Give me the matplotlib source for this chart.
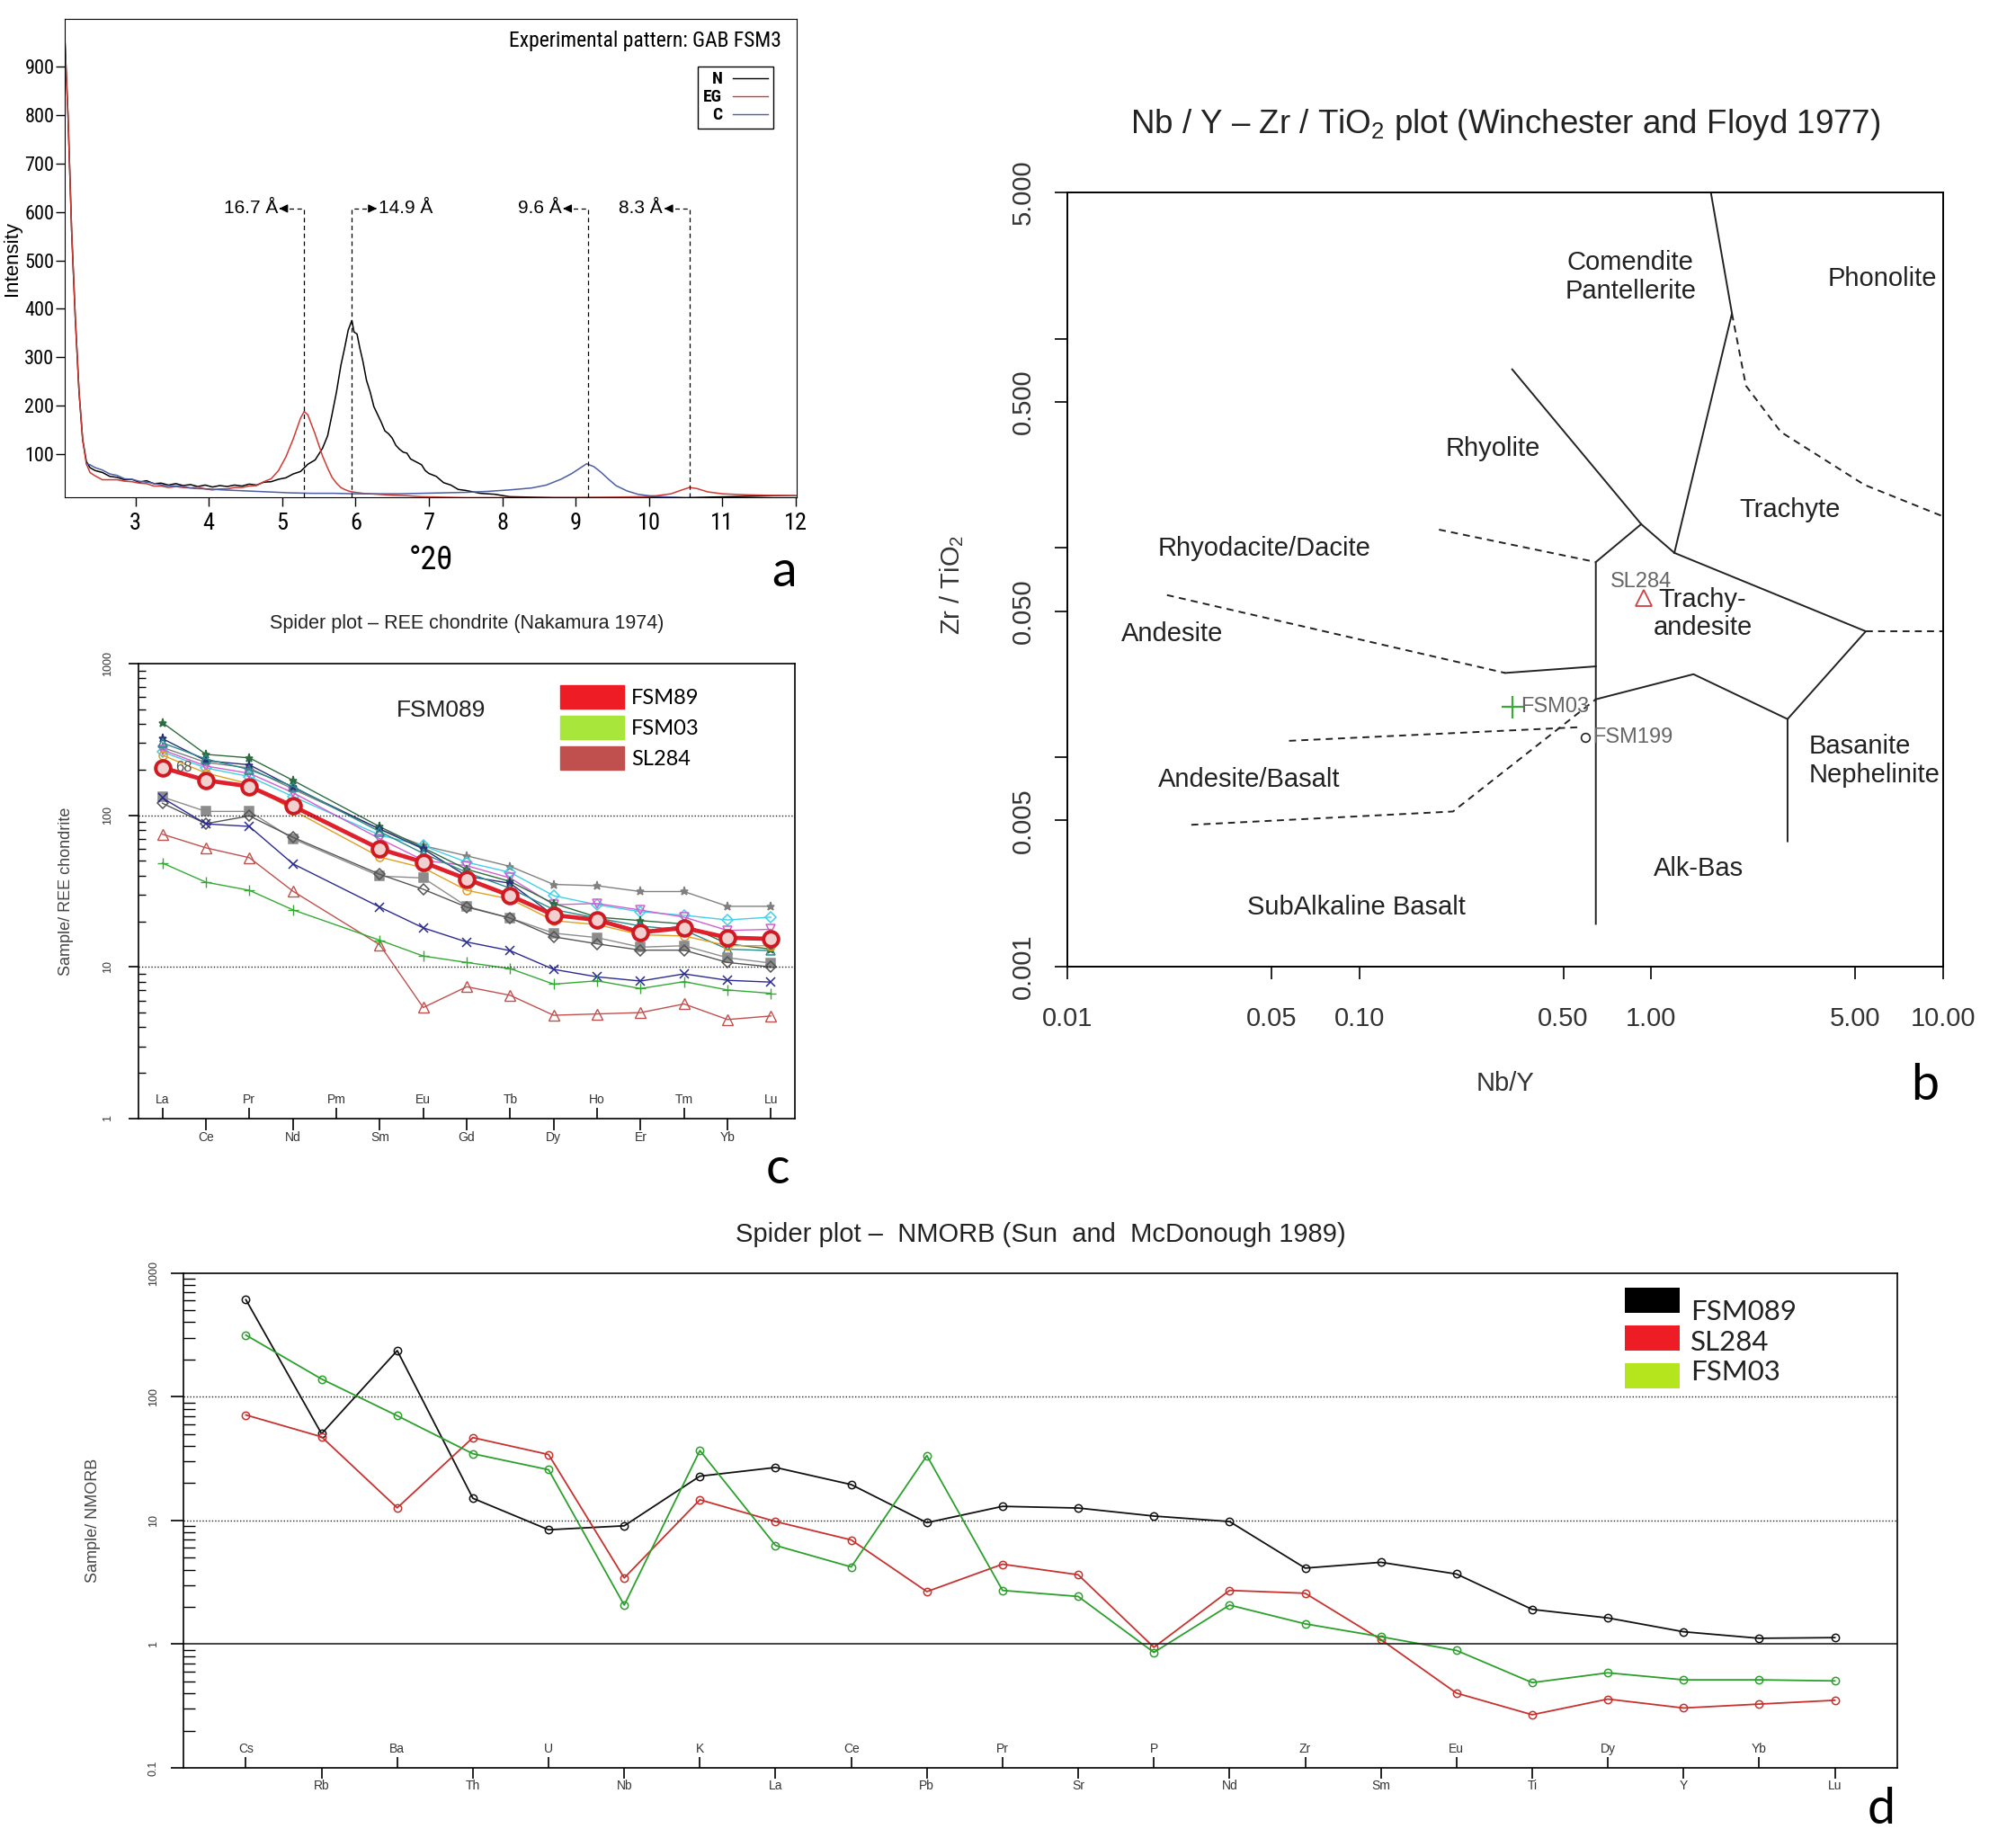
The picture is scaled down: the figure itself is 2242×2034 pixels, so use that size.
import numpy as np
import matplotlib.pyplot as plt
from matplotlib.lines import Line2D
from matplotlib.patches import Patch, Rectangle
from matplotlib.ticker import FixedLocator, FixedFormatter, LogLocator, NullFormatter, NullLocator

plt.rcParams['font.family'] = ['Liberation Sans', 'DejaVu Sans']
plt.rcParams['mathtext.fontset'] = 'custom'
plt.rcParams['mathtext.rm'] = 'Liberation Sans'
plt.rcParams['mathtext.default'] = 'regular'
NARROW = ['Roboto Condensed', 'Liberation Sans Narrow', 'Open Sans Condensed', 'DejaVu Sans']
CALI = ['Lato', 'DejaVu Sans']

# ---------------- panel a: XRD patterns ----------------
n_2theta = [2.03, 2.08, 2.13, 2.18, 2.23, 2.28, 2.33, 2.38, 2.45, 2.55, 2.65, 2.75, 2.85, 2.95,
            3.05, 3.15, 3.25, 3.35, 3.45, 3.55, 3.65, 3.75, 3.85, 3.95, 4.05, 4.15, 4.25, 4.35,
            4.45, 4.55, 4.65, 4.75, 4.85, 4.95, 5.05, 5.15, 5.25, 5.35, 5.45, 5.55, 5.62, 5.68,
            5.74, 5.80, 5.85, 5.90, 5.95, 5.98, 6.02, 6.06, 6.10, 6.15, 6.20, 6.25, 6.30, 6.35,
            6.40, 6.45, 6.50, 6.55, 6.60, 6.65, 6.70, 6.75, 6.80, 6.85, 6.90, 6.95, 7.00, 7.10,
            7.20, 7.30, 7.40, 7.50, 7.70, 7.90, 8.10, 8.40, 8.70, 9.00, 9.30, 9.60, 9.90, 10.20,
            10.50, 10.80, 11.10, 11.40, 11.70, 12.00]
n_int = [985, 800, 560, 380, 230, 130, 85, 72, 66, 62, 54, 52, 47, 48,
         42, 45, 39, 40, 36, 39, 35, 37, 33, 36, 32, 35, 33, 36,
         34, 38, 36, 42, 43, 48, 51, 59, 64, 79, 88, 112, 138, 182,
         228, 283, 318, 356, 376, 352, 348, 318, 292, 252, 228, 198, 182, 166,
         148, 142, 133, 118, 110, 104, 102, 90, 86, 82, 78, 66, 60, 54,
         41, 36, 27, 25, 19, 17, 12, 11, 10, 10, 10, 10, 11, 11,
         10, 11, 12, 13, 14, 14]
eg_2theta = [2.03, 2.08, 2.13, 2.18, 2.23, 2.28, 2.33, 2.38, 2.45, 2.55, 2.65, 2.75, 2.85, 2.95,
             3.05, 3.15, 3.25, 3.35, 3.45, 3.55, 3.65, 3.75, 3.85, 3.95, 4.05, 4.15, 4.25, 4.35,
             4.45, 4.55, 4.65, 4.75, 4.85, 4.95, 5.05, 5.15, 5.25, 5.30, 5.35, 5.45, 5.55, 5.62,
             5.68, 5.74, 5.80, 5.85, 5.90, 5.95, 6.10, 6.30, 6.50, 6.70, 6.90, 7.20, 7.50, 8.00,
             8.50, 9.00, 9.50, 9.90, 10.10, 10.30, 10.45, 10.55, 10.65, 10.80, 11.00, 11.30, 11.60, 12.00]
eg_int = [985, 800, 560, 380, 230, 130, 80, 62, 55, 47, 47, 47, 44, 43,
          40, 39, 34, 34, 31, 33, 31, 30, 32, 28, 26, 28, 28, 31,
          31, 34, 35, 43, 49, 66, 94, 131, 174, 188, 181, 141, 96, 71,
          52, 40, 31, 27, 24, 22, 19, 17, 15, 14, 12, 11, 10, 10,
          10, 10, 11, 12, 14, 18, 26, 31, 29, 22, 18, 16, 15, 14]
c_2theta = [2.33, 2.38, 2.45, 2.55, 2.65, 2.75, 2.85, 2.95, 3.05, 3.20, 3.40, 3.60, 3.80, 4.00,
            4.20, 4.50, 4.80, 5.10, 5.40, 5.70, 6.00, 6.30, 6.60, 6.90, 7.20, 7.50, 7.80, 8.10,
            8.40, 8.60, 8.80, 8.95, 9.05, 9.15, 9.25, 9.35, 9.45, 9.55, 9.70, 9.85, 10.00, 10.20, 10.40]
c_int = [80, 78, 72, 67, 59, 56, 49, 48, 44, 41, 35, 34, 29, 28,
         26, 24, 22, 20, 19, 19, 18, 18, 18, 19, 20, 21, 23, 26,
         30, 36, 48, 60, 70, 80, 74, 62, 48, 35, 24, 17, 14, 12, 10]
peak_2theta = [5.30, 5.95, 9.17, 10.55]
peak_labels = ['16.7 Å', '14.9 Å', '9.6 Å', '8.3 Å']
peak_side = [-1, 1, -1, -1]

# ---------------- panel b: Winchester & Floyd diagram ----------------
solid_bounds = [
    [(1.60, 5.0), (1.89, 1.32), (1.20, 0.0948)],
    [(0.334, 0.714), (0.924, 0.130), (1.20, 0.0948)],
    [(0.924, 0.130), (0.646, 0.0857), (0.646, 0.0016)],
    [(1.20, 0.0948), (5.43, 0.040), (2.93, 0.01523), (2.93, 0.00397)],
    [(0.646, 0.01893), (1.395, 0.02495), (2.93, 0.01523)],
    [(0.316, 0.0253), (0.646, 0.0272)],
]
dashed_bounds = [
    [(0.1875, 0.1224), (0.646, 0.0857)],
    [(0.02195, 0.0596), (0.316, 0.0253)],
    [(0.0575, 0.01199), (0.58, 0.01395)],
    [(0.0266, 0.00476), (0.2094, 0.00551), (0.646, 0.01893)],
    [(1.89, 1.32), (2.11, 0.596), (2.78, 0.3584), (5.37, 0.2004), (10.0, 0.1415)],
    [(5.43, 0.040), (10.0, 0.040)],
]
field_names = ['Comendite\nPantellerite', 'Phonolite', 'Rhyolite', 'Trachyte', 'Rhyodacite/Dacite',
               'Trachy-\nandesite', 'Andesite', 'Andesite/Basalt', 'Alk-Bas', 'SubAlkaline Basalt']
field_x = [0.85, 6.2, 0.288, 2.98, 0.0474, 1.50, 0.0228, 0.042, 1.45, 0.098]
field_y = [1.97, 1.93, 0.299, 0.152, 0.0991, 0.0487, 0.0389, 0.0078, 0.00293, 0.00192]
sample_names = ['SL284', 'FSM03', 'FSM199']
sample_nby = [0.94, 0.334, 0.595]
sample_zrti = [0.0575, 0.0174, 0.0124]

# ---------------- panel c: REE spider plot ----------------
ree = ['La', 'Ce', 'Pr', 'Nd', 'Pm', 'Sm', 'Eu', 'Gd', 'Tb', 'Dy', 'Ho', 'Er', 'Tm', 'Yb', 'Lu']
ree_measured = ['La', 'Ce', 'Pr', 'Nd', 'Sm', 'Eu', 'Gd', 'Tb', 'Dy', 'Ho', 'Er', 'Tm', 'Yb', 'Lu']
fsm89_ree = [206, 170, 155, 115, 60, 49, 38, 29.5, 22, 20.4, 16.9, 18.1, 15.6, 15.3]
fsm03_ree = [48.4, 36.2, 32, 23.8, 15.0, 11.8, 10.7, 9.75, 7.7, 8.1, 7.2, 8.0, 7.05, 6.7]
sl284_ree = [75, 61, 52.5, 31.6, 14.0, 5.4, 7.4, 6.5, 4.8, 4.9, 5.0, 5.7, 4.5, 4.75]
ree_s1 = [408, 252, 239, 170, 84, 61, 44, 36.6, 26.2, 21.3, 20.2, 19.2, 14.2, 13.1]
ree_s2 = [320, 229, 215, 153, 81, 60, 39.7, 35.6, 21.9, 20.8, 17.2, 18.6, 15.4, 15.0]
ree_s3 = [280, 223, 205, 149, 81, 63, 54, 46, 35, 34.3, 31.4, 31.4, 25.1, 25.1]
ree_s4 = [262, 205, 180, 133, 74, 63, 49, 42, 29.5, 25.7, 23.1, 21.9, 20.4, 21.3]
ree_s5 = [270, 211, 189, 141, 70, 50.5, 46.5, 38.6, 25.7, 26.2, 23.7, 21.3, 17.4, 17.7]
ree_s6 = [249, 190, 161, 108, 53, 45, 32, 28, 20.2, 19, 16.3, 16, 13.8, 13.8]
ree_s7 = [132, 106, 106, 70, 39.7, 38.6, 25.1, 21, 16.7, 15.6, 13.5, 13.8, 11.5, 10.6]
ree_s8 = [120, 88, 99, 71.6, 40.8, 32.5, 24.8, 21, 15.8, 14.2, 12.9, 12.9, 10.7, 10]
ree_s9 = [130, 87.7, 84.4, 47.9, 24.8, 18.1, 14.6, 12.8, 9.64, 8.6, 8.07, 9.0, 8.16, 7.94]
ree_s10 = [300, 235, 200, 155, 78, 56, 42, 33, 23.9, 21, 18.6, 17.5, 13.1, 12.8]

# ---------------- panel d: NMORB spider plot ----------------
nmorb = ['Cs', 'Rb', 'Ba', 'Th', 'U', 'Nb', 'K', 'La', 'Ce', 'Pb', 'Pr', 'Sr', 'P', 'Nd', 'Zr',
         'Sm', 'Eu', 'Ti', 'Dy', 'Y', 'Yb', 'Lu']
fsm089_nm = [608, 50.2, 236, 15.1, 8.41, 9.05, 22.8, 26.8, 19.5, 9.59, 13.0, 12.6, 10.85, 9.8,
             4.12, 4.59, 3.69, 1.91, 1.63, 1.26, 1.116, 1.13]
sl284_nm = [71.2, 47.4, 12.65, 46.7, 34.1, 3.43, 14.7, 9.8, 6.96, 2.66, 4.43, 3.64, 0.943, 2.72,
            2.58, 1.09, 0.402, 0.269, 0.36, 0.305, 0.328, 0.352]
fsm03_nm = [315, 139, 70.2, 34.6, 25.7, 2.07, 36.7, 6.28, 4.21, 33.4, 2.72, 2.43, 0.858, 2.07,
            1.46, 1.149, 0.89, 0.489, 0.587, 0.515, 0.515, 0.505]
legend_d_names = ['FSM089', 'SL284', 'FSM03']
legend_d_colors = ['black', '#ee1c24', '#b5e61d']

fig = plt.figure(figsize=(22.42, 20.34), dpi=100)

# ======== a ========
ax_a = fig.add_axes([0.0319, 0.7279, 0.3635, 0.2616])
ax_a.plot(n_2theta, n_int, color='black', lw=1.1)
ax_a.plot(eg_2theta, eg_int, color='#d03a33', lw=1.1)
ax_a.plot(c_2theta, c_int, color='#4b5ea6', lw=1.1)
ax_a.set_xlim(2.03, 12.02)
ax_a.set_ylim(10, 998)
ax_a.set_xticks(range(3, 13))
ax_a.set_yticks(range(100, 1000, 100))
ax_a.tick_params(axis='y', direction='out', length=7, width=1, pad=1, labelsize=16)
ax_a.tick_params(axis='x', direction='out', length=7, width=1, pad=5, labelsize=19)
for lab in ax_a.get_xticklabels() + ax_a.get_yticklabels():
    lab.set_family(NARROW)
    lab.set_stretch('condensed')
ax_a.set_xlabel('°2θ', fontsize=26, family=NARROW, fontstretch='condensed', labelpad=8)
ax_a.set_ylabel('Intensity', fontsize=16)
ax_a.yaxis.set_label_coords(-0.058, 0.5)
level = 607
for xp, lab, side in zip(peak_2theta, peak_labels, peak_side):
    x_end = xp + side * 0.34
    ax_a.plot([xp, xp, x_end], [10, level, level], color='black', lw=0.9, ls=(0, (4, 3)))
    ax_a.annotate('', xy=(x_end, level), xytext=(x_end - side * 0.06, level),
                  arrowprops=dict(arrowstyle='-|>', color='black', lw=0.9, mutation_scale=14))
    ax_a.text(x_end + side * 0.02, level, lab, fontsize=15, ha='right' if side < 0 else 'left',
              va='center')
ax_a.text(0.979, 0.955, 'Experimental pattern: GAB FSM3', transform=ax_a.transAxes,
          ha='right', va='center', fontsize=17, family=NARROW, fontstretch='condensed')
leg_a = ax_a.legend([Line2D([], [], color='black', lw=1), Line2D([], [], color='#d03a33', lw=1),
                     Line2D([], [], color='#4b5ea6', lw=1)], ['N', 'EG', 'C'],
                    loc='upper right', bbox_to_anchor=(0.979, 0.92), markerfirst=False,
                    fancybox=False, edgecolor='black', framealpha=1, handlelength=2.0,
                    labelspacing=0.1, borderpad=0.3, handletextpad=0.6,
                    prop={'family': NARROW, 'weight': 'bold', 'size': 14, 'stretch': 'condensed'})
leg_a.get_frame().set_linewidth(1)
fig.text(0.389, 0.6873, 'a', fontsize=40, family=CALI, ha='center', va='center')

# ======== b ========
ax_b = fig.add_axes([0.5294, 0.4715, 0.4345, 0.4233])
ax_b.set_xscale('log')
ax_b.set_yscale('log')
for seg in solid_bounds:
    xs, ys = zip(*seg)
    ax_b.plot(xs, ys, color='#222222', lw=1.4)
for seg in dashed_bounds:
    xs, ys = zip(*seg)
    ax_b.plot(xs, ys, color='#222222', lw=1.4, ls=(0, (4, 3)))
for name, fx, fy in zip(field_names, field_x, field_y):
    ax_b.text(fx, fy, name, fontsize=21, ha='center', va='center', color='#222222', linespacing=1.15)
ax_b.text(3.46, 0.00964, 'Basanite\nNephelinite', fontsize=21, ha='left', va='center',
          color='#222222', linespacing=1.15)
ax_b.plot(sample_nby[0], sample_zrti[0], marker='^', ms=13, mfc='none', mec='#d04040', mew=1.3)
ax_b.plot(sample_nby[1], sample_zrti[1], marker='+', ms=18, color='#3aa83a', mew=1.6)
ax_b.plot(sample_nby[2], sample_zrti[2], marker='o', ms=7, mfc='none', mec='#222222', mew=1.2)
ax_b.annotate(sample_names[0], (sample_nby[0], sample_zrti[0]), xytext=(-2, 5),
              textcoords='offset points', ha='center', va='bottom', fontsize=17, color='#666666')
ax_b.annotate(sample_names[1], (sample_nby[1], sample_zrti[1]), xytext=(7, 0),
              textcoords='offset points', ha='left', va='center', fontsize=17, color='#666666')
ax_b.annotate(sample_names[2], (sample_nby[2], sample_zrti[2]), xytext=(6, 0),
              textcoords='offset points', ha='left', va='center', fontsize=17, color='#666666')
ax_b.set_xlim(0.01, 10)
ax_b.set_ylim(0.001, 5)
ax_b.xaxis.set_major_locator(FixedLocator([0.01, 0.05, 0.1, 0.5, 1, 5, 10]))
ax_b.xaxis.set_major_formatter(FixedFormatter(['0.01', '0.05', '0.10', '0.50', '1.00', '5.00', '10.00']))
ax_b.xaxis.set_minor_locator(NullLocator())
ax_b.yaxis.set_major_locator(FixedLocator([0.001, 0.005, 0.01, 0.05, 0.1, 0.5, 1, 5]))
ax_b.yaxis.set_major_formatter(FixedFormatter(['0.001', '0.005', '', '0.050', '', '0.500', '', '5.000']))
ax_b.yaxis.set_minor_locator(NullLocator())
ax_b.tick_params(axis='x', direction='out', length=10, width=1.2, pad=22, labelsize=21, labelcolor='#333333')
ax_b.tick_params(axis='y', direction='out', length=10, width=1.2, pad=15, labelsize=21,
                 labelcolor='#333333', labelrotation=90)
for lab in ax_b.get_yticklabels():
    lab.set_va('center')
for sp in ax_b.spines.values():
    sp.set_linewidth(1.4)
ax_b.text(0.5, 1.088, 'Nb / Y – Zr / TiO$_2$ plot (Winchester and Floyd 1977)', transform=ax_b.transAxes,
          ha='center', va='center', fontsize=26.5, color='#222222')
ax_b.text(0.5, -0.151, 'Nb/Y', transform=ax_b.transAxes, ha='center', va='center', fontsize=21,
          color='#333333')
ax_b.text(-0.132, 0.493, 'Zr / TiO$_2$', transform=ax_b.transAxes, ha='center', va='center',
          fontsize=21, rotation=90, color='#333333')
fig.text(0.9547, 0.4062, 'b', fontsize=40, family=CALI, ha='center', va='center')

# ======== c ========
ax_c = fig.add_axes([0.0687, 0.3884, 0.3256, 0.2488])
ax_c.set_yscale('log')
ree_pos = [ree.index(e) + 1 for e in ree_measured]
background = [
    (ree_s3, '#808080', '*'), (ree_s4, '#40d0e8', 'D'), (ree_s5, '#d060d0', 'v'),
    (ree_s1, '#2e6b3e', '*'), (ree_s2, '#28307a', '*'), (ree_s10, '#2a8a8a', '^'),
    (ree_s6, '#e0a020', 'o'), (ree_s7, '#8c8c8c', 's'), (ree_s8, '#555555', 'D'),
    (ree_s9, '#2a2a90', 'x'),
]
for vals, col, mk in background:
    ax_c.plot(ree_pos, vals, color=col, lw=1.0, marker=mk, ms=6.5, mfc='none' if mk in 'Dv^o' else col,
              mec=col, mew=1.1)
ax_c.plot(ree_pos, sl284_ree, color='#c0504d', lw=1.0, marker='^', ms=8, mfc='none', mew=1.0)
ax_c.plot(ree_pos, fsm03_ree, color='#33aa33', lw=1.0, marker='+', ms=9, mew=1.0)
ax_c.plot(ree_pos, fsm89_ree, color='#e0202a', lw=3.4, marker='o', ms=12, mfc='#f2d0d0',
          mec='#d01a22', mew=2.8)
ax_c.text(ree_pos[0] + 0.3, fsm89_ree[0], '68', fontsize=12, color='#555555', va='center')
ax_c.axhline(10, color='#222222', lw=1, ls=(0, (1, 1.5)))
ax_c.axhline(100, color='#222222', lw=1, ls=(0, (1, 1.5)))
ax_c.set_xlim(0.45, 15.55)
ax_c.set_ylim(1, 1000)
odd = list(range(0, 15, 2))
even = list(range(1, 15, 2))
ax_c.xaxis.set_major_locator(FixedLocator([i + 1 for i in even]))
ax_c.xaxis.set_major_formatter(FixedFormatter([ree[i] for i in even]))
ax_c.xaxis.set_minor_locator(FixedLocator([i + 1 for i in odd]))
ax_c.xaxis.set_minor_formatter(FixedFormatter([ree[i] for i in odd]))
ax_c.tick_params(axis='x', which='major', direction='out', length=9, width=1.2, pad=1,
                 labelsize=10, labelcolor='#333333')
ax_c.tick_params(axis='x', which='minor', direction='in', length=9, width=1.2, pad=-20,
                 labelsize=10, labelcolor='#333333')
ax_c.set_yticks([1, 10, 100, 1000])
ax_c.set_yticklabels(['1', '10', '100', '1000'])
ax_c.yaxis.set_minor_locator(LogLocator(base=10, subs=range(2, 10)))
ax_c.yaxis.set_minor_formatter(NullFormatter())
ax_c.tick_params(axis='y', which='major', direction='out', length=8, width=1.2, pad=12,
                 labelsize=9, labelcolor='#333333', labelrotation=90)
ax_c.tick_params(axis='y', which='minor', direction='in', length=6, width=1.0)
for lab in ax_c.get_yticklabels():
    lab.set_va('center')
for sp in ax_c.spines.values():
    sp.set_linewidth(1.2)
ax_c.text(0.5, 1.088, 'Spider plot – REE chondrite (Nakamura 1974)', transform=ax_c.transAxes,
          ha='center', va='center', fontsize=15.5, color='#222222')
ax_c.text(-0.11, 0.5, 'Sample/ REE chondrite', transform=ax_c.transAxes, ha='center', va='center',
          fontsize=13, rotation=90, color='#444444')
ax_c.text(0.4616, 0.897, 'FSM089', transform=ax_c.transAxes, ha='center', va='center', fontsize=19,
          color='#222222')
ax_c.legend(handles=[Patch(color='#ee1c24'), Patch(color='#a8e63c'), Patch(color='#c0504d')],
            labels=['FSM89', 'FSM03', 'SL284'], loc='upper left', bbox_to_anchor=(0.62, 0.985),
            frameon=False, handlelength=3.0, handleheight=1.3, labelspacing=0.35, handletextpad=0.35,
            borderpad=0.2, prop={'family': CALI, 'size': 17})
fig.text(0.3858, 0.3605, 'c', fontsize=40, family=CALI, ha='center', va='center')

# ======== d ========
ax_d = fig.add_axes([0.0912, 0.0334, 0.8501, 0.2706])
ax_d.set_yscale('log')
xd = list(range(1, len(nmorb) + 1))
ax_d.plot(xd, fsm089_nm, color='#111111', lw=1.3, marker='o', ms=6, mfc='none', mew=1.1)
ax_d.plot(xd, sl284_nm, color='#c8322e', lw=1.3, marker='o', ms=6, mfc='none', mew=1.1)
ax_d.plot(xd, fsm03_nm, color='#2ca02c', lw=1.3, marker='o', ms=6, mfc='none', mew=1.1)
ax_d.axhline(100, color='#222222', lw=1, ls=(0, (1, 1.5)))
ax_d.axhline(10, color='#222222', lw=1, ls=(0, (1, 1.5)))
ax_d.axhline(1, color='#222222', lw=1.2)
ax_d.set_xlim(0.18, 22.83)
ax_d.set_ylim(0.1, 1000)
odd_d = list(range(0, len(nmorb), 2))
even_d = list(range(1, len(nmorb), 2))
ax_d.xaxis.set_major_locator(FixedLocator([i + 1 for i in even_d]))
ax_d.xaxis.set_major_formatter(FixedFormatter([nmorb[i] for i in even_d]))
ax_d.xaxis.set_minor_locator(FixedLocator([i + 1 for i in odd_d]))
ax_d.xaxis.set_minor_formatter(FixedFormatter([nmorb[i] for i in odd_d]))
ax_d.tick_params(axis='x', which='major', direction='out', length=8.5, width=1.2, pad=1,
                 labelsize=10, labelcolor='#333333')
ax_d.tick_params(axis='x', which='minor', direction='in', length=8.5, width=1.2, pad=-20,
                 labelsize=10, labelcolor='#333333')
ax_d.set_yticks([0.1, 1, 10, 100, 1000])
ax_d.set_yticklabels(['0.1', '1', '10', '100', '1000'])
ax_d.yaxis.set_minor_locator(LogLocator(base=10, subs=range(2, 10)))
ax_d.yaxis.set_minor_formatter(NullFormatter())
ax_d.tick_params(axis='y', which='major', direction='out', length=10, width=1.2, pad=10,
                 labelsize=9, labelcolor='#333333', labelrotation=90)
ax_d.tick_params(axis='y', which='minor', direction='in', length=9, width=1.0)
for lab in ax_d.get_yticklabels():
    lab.set_va('center')
for sp in ax_d.spines.values():
    sp.set_linewidth(1.2)
ax_d.text(0.5, 1.078, 'Spider plot –  NMORB (Sun  and  McDonough 1989)', transform=ax_d.transAxes,
          ha='center', va='center', fontsize=21, color='#222222')
ax_d.text(-0.053, 0.5, 'Sample/ NMORB', transform=ax_d.transAxes, ha='center', va='center',
          fontsize=13, rotation=90, color='#444444')
# pasted-style legend: colour blocks and names on slightly different pitches
for i, (name, col) in enumerate(zip(legend_d_names, legend_d_colors)):
    ax_d.add_patch(Rectangle((0.8406, 0.9193 - i * 0.0763), 0.0323, 0.0514, transform=ax_d.transAxes,
                             facecolor=col, edgecolor='none', clip_on=False))
    ax_d.text(0.879, 0.9042 - i * 0.0606, name, transform=ax_d.transAxes, ha='left', va='baseline',
              fontsize=22.5, family=CALI, color='#222222')
fig.text(0.933, 0.0105, 'd', fontsize=40, family=CALI, ha='center', va='center')

fig.savefig('out.png', dpi=100, facecolor='white')
